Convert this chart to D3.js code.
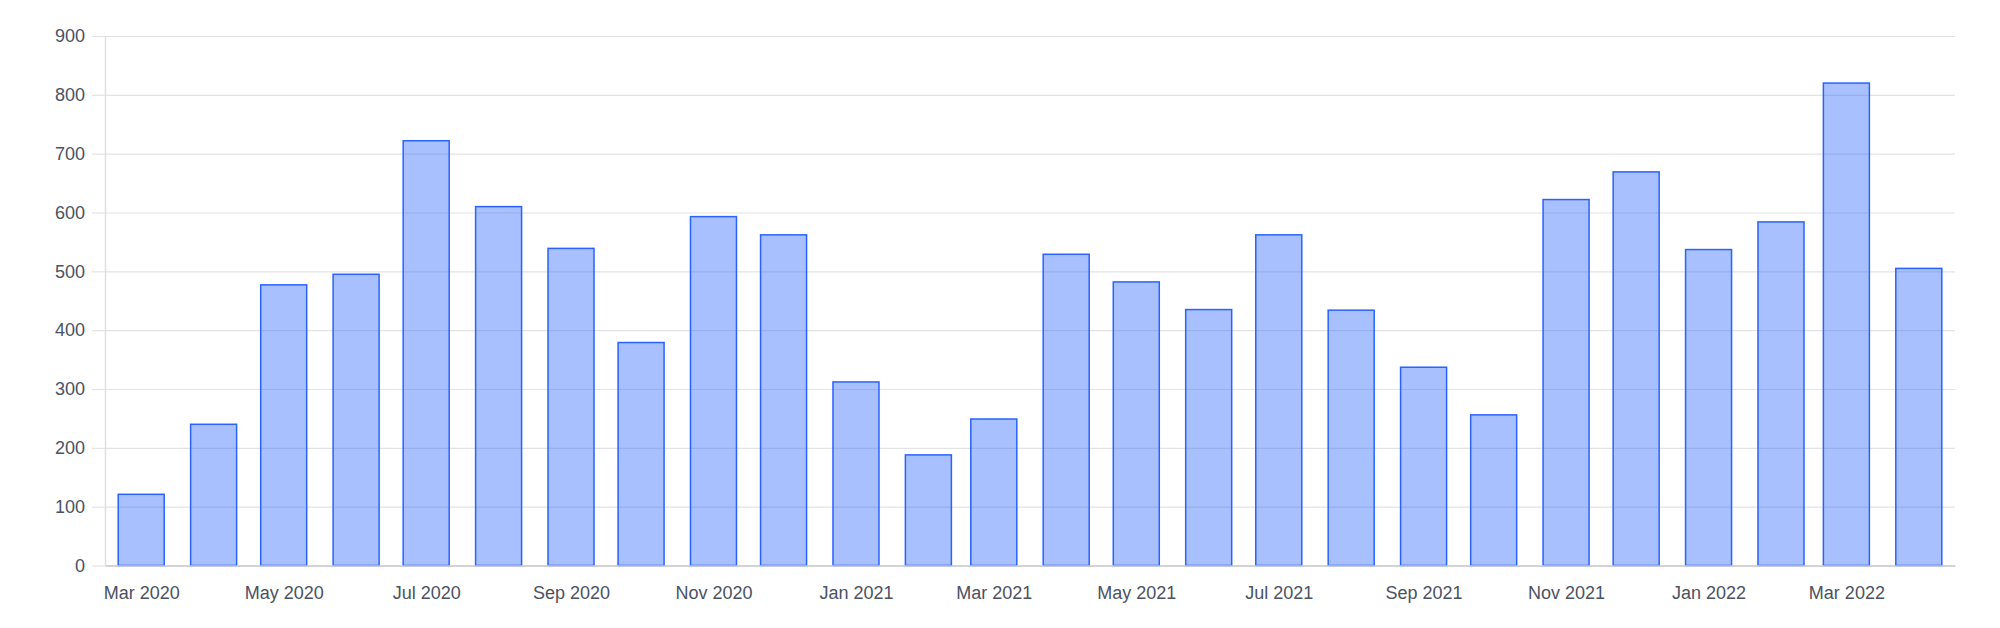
<!DOCTYPE html>
<html>
<head>
<meta charset="utf-8">
<script src="https://cdn.jsdelivr.net/npm/d3@7"></script>
<style>
  html, body { margin: 0; padding: 0; background: #fff; }
  svg text { font-family: "Liberation Sans", Arial, Helvetica, sans-serif; }
</style>
</head>
<body>
<svg id="chart" width="2000" height="628"></svg>
<script>
// ---- data ----
const months = ["2020-03","2020-04","2020-05","2020-06","2020-07","2020-08","2020-09","2020-10","2020-11","2020-12",
                "2021-01","2021-02","2021-03","2021-04","2021-05","2021-06","2021-07","2021-08","2021-09","2021-10","2021-11","2021-12",
                "2022-01","2022-02","2022-03","2022-04"];
const values = [121, 240, 477, 495, 722, 610, 539, 379, 593, 562,
                312, 188, 249, 529, 482, 435, 562, 434, 337, 256, 622, 669,
                537, 584, 820, 505];
const xTickMonths = ["2020-03","2020-05","2020-07","2020-09","2020-11","2021-01","2021-03","2021-05","2021-07","2021-09","2021-11","2022-01","2022-03"];
const yTicks = [0, 100, 200, 300, 400, 500, 600, 700, 800, 900];

// ---- layout ----
const W = 2000, H = 628;
const margin = { left: 105, right: 45, top: 36, bottom: 62 };
const barWidth = 46;
const parse = d3.utcParse("%Y-%m");
const fmt = d3.utcFormat("%b %Y");
const dates = months.map(parse);
const DAY = 864e5;
const pad = 15.5 * DAY;

const x = d3.scaleUtc()
  .domain([new Date(+dates[0] - pad), new Date(+dates[dates.length - 1] + pad)])
  .range([margin.left, W - margin.right]);
const y = d3.scaleLinear().domain([0, 900]).range([H - margin.bottom - 0.5, margin.top]);

const svg = d3.select("#chart");

// grid + y axis
const yAxis = d3.axisLeft(y).tickValues(yTicks).tickSize(13).tickPadding(7);
const gy = svg.append("g").attr("transform", `translate(${margin.left},0)`).call(yAxis);
gy.select(".domain").remove();
gy.selectAll(".tick line").attr("stroke", "#e3e3e6").attr("stroke-width", 1.2);
gy.selectAll(".tick text").attr("fill", "#4a5263").style("font-size", "18px");
gy.selectAll(".tick").append("line")
  .attr("x1", 0).attr("x2", W - margin.right - margin.left)
  .attr("stroke", "#e3e3e6").attr("stroke-width", 1.2);

// left axis line
svg.append("line")
  .attr("x1", margin.left + 0.5).attr("x2", margin.left + 0.5)
  .attr("y1", y(900)).attr("y2", y(0))
  .attr("stroke", "#e0e0e3").attr("stroke-width", 1.5);

// bars
svg.append("g").selectAll("rect").data(values).join("rect")
  .attr("x", (d, i) => x(dates[i]) - barWidth / 2)
  .attr("width", barWidth)
  .attr("y", d => y(d))
  .attr("height", d => y(0) - y(d))
  .attr("fill", "rgba(41,98,255,0.4)")
  .attr("stroke", "#2962ff")
  .attr("stroke-width", 1.5);

// x axis
const xAxis = d3.axisBottom(x).tickValues(xTickMonths.map(parse)).tickFormat(fmt).tickSize(0).tickPadding(21);
const gx = svg.append("g").attr("transform", `translate(0,${y(0)})`).call(xAxis);
gx.select(".domain").attr("stroke", "#c8c8cc").attr("stroke-width", 1.5);
gx.selectAll(".tick text").attr("fill", "#4a5263").style("font-size", "18px");
</script>
</body>
</html>
